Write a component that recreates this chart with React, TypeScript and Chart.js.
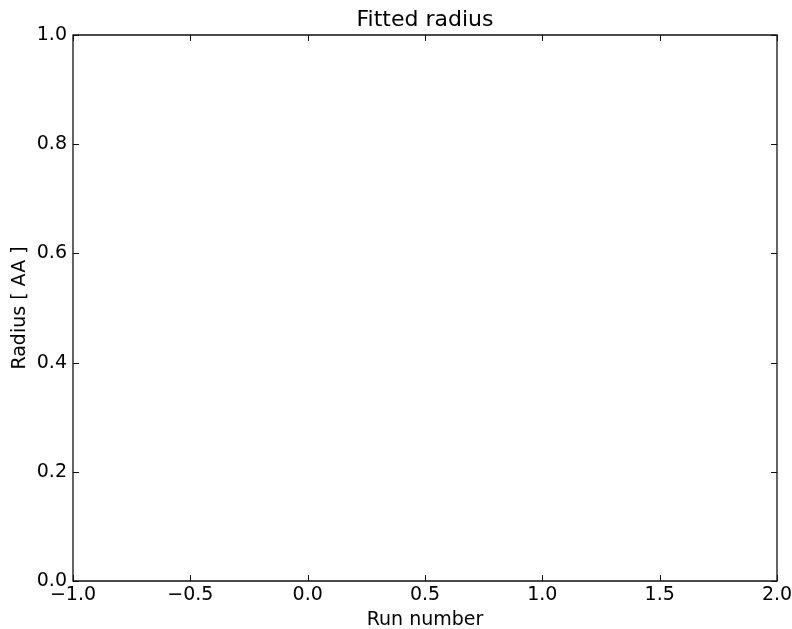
import React, { useEffect, useRef } from "react";
import { Chart, registerables } from "chart.js";

Chart.register(...registerables);

// Axis ranges and tick positions
const xTickValues = [-1.0, -0.5, 0.0, 0.5, 1.0, 1.5, 2.0];
const yTickValues = [0.0, 0.2, 0.4, 0.6, 0.8, 1.0];
// No fitted runs yet: the series is empty
const runNumbers: number[] = [];
const radii: number[] = [];

const TITLE = "Fitted radius";
const FONT = "'DejaVu Sans', 'Bitstream Vera Sans', sans-serif";
const fmt = (v: number) => v.toFixed(1).replace("-", "\u2212");

// Matplotlib-style frame with inward ticks on all four sides,
// and the title centred over the plotting area
const framePlugin = {
  id: "frame",
  afterDraw(chart: any) {
    const { ctx, chartArea } = chart;
    const { left, right, top, bottom } = chartArea;
    const xs = chart.scales.x;
    const ys = chart.scales.y;
    const len = 6;
    ctx.save();
    ctx.strokeStyle = "#111";
    ctx.lineWidth = 1.3;
    ctx.beginPath();
    ctx.rect(Math.round(left), Math.round(top), Math.round(right) - Math.round(left), Math.round(bottom) - Math.round(top));
    ctx.stroke();
    ctx.lineWidth = 1;
    ctx.beginPath();
    for (const t of xs.ticks) {
      const px = Math.round(xs.getPixelForValue(t.value)) + 0.5;
      ctx.moveTo(px, bottom);
      ctx.lineTo(px, bottom - len);
      ctx.moveTo(px, top);
      ctx.lineTo(px, top + len);
    }
    for (const t of ys.ticks) {
      const py = Math.round(ys.getPixelForValue(t.value)) + 0.5;
      ctx.moveTo(left, py);
      ctx.lineTo(left + len, py);
      ctx.moveTo(right, py);
      ctx.lineTo(right - len, py);
    }
    ctx.stroke();

    ctx.fillStyle = "#000";
    ctx.font = `22px ${FONT}`;
    ctx.textAlign = "center";
    ctx.textBaseline = "middle";
    ctx.fillText(TITLE, (left + right) / 2, 20);
    ctx.restore();
  },
};

export default function App() {
  const canvasRef = useRef<HTMLCanvasElement>(null);

  useEffect(() => {
    if (!canvasRef.current) return;
    const chart = new Chart(canvasRef.current, {
      type: "scatter",
      data: {
        datasets: [
          {
            label: "Radius",
            data: runNumbers.map((x, i) => ({ x, y: radii[i] })),
            borderColor: "#0000ff",
            backgroundColor: "#0000ff",
          },
        ],
      },
      options: {
        animation: false,
        responsive: false,
        devicePixelRatio: 1,
        layout: { padding: { left: 0, right: 15, top: 35, bottom: 0 } },
        plugins: {
          legend: { display: false },
          tooltip: { enabled: false },
          title: { display: false },
        },
        scales: {
          x: {
            type: "linear",
            min: -1,
            max: 2,
            grid: { display: false, drawTicks: false },
            border: { display: false },
            afterBuildTicks: (s: any) => {
              s.ticks = xTickValues.map((v) => ({ value: v }));
            },
            afterFit: (s: any) => {
              s.height = 48;
              s.paddingLeft = 0;
              s.paddingRight = 0;
            },
            ticks: {
              color: "#000",
              font: { family: FONT, size: 19 },
              padding: 3,
              maxRotation: 0,
              autoSkip: false,
              callback: (v: any) => fmt(Number(v)),
            },
            title: {
              display: true,
              text: "Run number",
              color: "#000",
              font: { family: FONT, size: 19 },
              padding: { top: 0, bottom: -2 },
            },
          },
          y: {
            type: "linear",
            min: 0,
            max: 1,
            grid: { display: false, drawTicks: false },
            border: { display: false },
            afterBuildTicks: (s: any) => {
              s.ticks = yTickValues.map((v) => ({ value: v }));
            },
            afterFit: (s: any) => {
              s.width = 73;
              s.paddingTop = 0;
              s.paddingBottom = 0;
            },
            ticks: {
              color: "#000",
              font: { family: FONT, size: 19 },
              padding: 6,
              autoSkip: false,
              callback: (v: any) => fmt(Number(v)),
            },
            title: {
              display: true,
              text: "Radius [ AA ]",
              color: "#000",
              font: { family: FONT, size: 19 },
              padding: { top: 9, bottom: 0 },
            },
          },
        },
      },
      plugins: [framePlugin],
    });
    return () => chart.destroy();
  }, []);

  return (
    <div style={{ position: "fixed", left: 0, top: 0, width: 792, height: 629, background: "#fff" }}>
      <canvas ref={canvasRef} width={792} height={629} style={{ display: "block" }} />
    </div>
  );
}
